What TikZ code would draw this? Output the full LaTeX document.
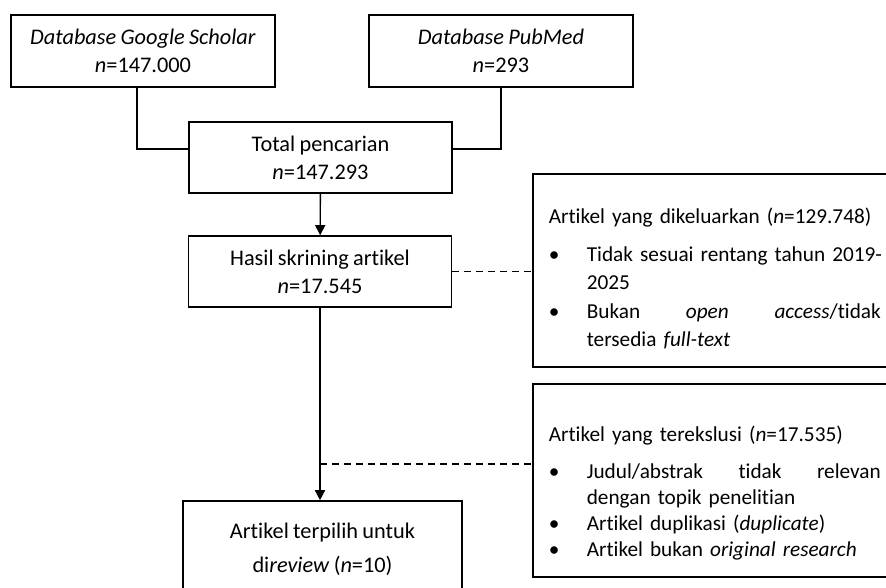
\documentclass[tikz,border=0pt]{standalone}
\usepackage{fontspec}
\setmainfont{Carlito}[Ligatures=NoCommon, WordSpace=0.85]
\usepackage{tikz}
\usetikzlibrary{arrows.meta, calc, positioning}
\newcommand{\bu}{\makebox[0.76cm][l]{\textbullet}}
\newcommand{\hang}{\hspace*{0.76cm}}
\tikzset{box/.style={draw, rectangle, line width=0.9pt, minimum width=5.28cm, minimum height=1.44cm, align=center, inner sep=0pt, font=\fontsize{12.7}{15.9}\selectfont}}
\tikzset{exbox/.style={box, anchor=north west, text width=6.64cm, inner xsep=0.32cm, align=left, minimum height=3.86cm}}
\tikzset{link/.style={line width=0.8pt}}
\tikzset{arrowlink/.style={link, -{Triangle[length=0.2cm, width=0.2cm]}}}
\tikzset{dashlink/.style={link, dash pattern=on 0.14cm off 0.1cm}}

\begin{document}
\begin{tikzpicture}
    \useasboundingbox (0, 0) rectangle (17.72, -11.76);

    \node [box] (GS) at (2.86, -1.02) { \textit{Database Google Scholar}\\ \textit{n}=147.000 };
    \node [box] (PM) at (10.02, -1.02) { \textit{Database PubMed}\\ \textit{n}=293 };
    \node [box, minimum width=5.26cm, minimum height=1.42cm] (Tot) at (6.41, -3.15) { Total pencarian\\ \textit{n}=147.293 };
    \node [box, minimum width=5.26cm, minimum height=1.42cm] (Skr) at (6.40, -5.43) { Hasil skrining artikel\\ \textit{n}=17.545 };
    \node [box, minimum width=5.58cm, minimum height=1.94cm, font=\fontsize{12.7}{19.2}\selectfont] (Fin) at (6.45, -10.99) { Artikel terpilih untuk\\ di\textit{review} (\textit{n}=10) };

    \node [exbox, font=\fontsize{12.1}{16.2}\selectfont] (Ex1) at (10.64, -3.46) {%
        \rule{0pt}{0.64cm}\mbox{Artikel yang dikeluarkan (\textit{n}=129.748)}\\[0.19cm]
        \bu\mbox{Tidak sesuai rentang tahun 2019-}\\
        \hang 2025\\
        \bu\makebox[5.88cm][l]{Bukan\hfill\textit{open}\hfill\textit{access}/tidak}\\
        \hang tersedia \textit{full-text}};
    \node [exbox, font=\fontsize{12.1}{14.8}\selectfont] (Ex2) at (10.64, -7.66) {%
        \rule{0pt}{0.84cm}\mbox{Artikel yang terekslusi (\textit{n}=17.535)}\\[0.22cm]
        \bu\makebox[5.88cm][l]{Judul/abstrak\hfill tidak\hfill relevan}\\
        \hang dengan topik penelitian\\
        \bu Artikel duplikasi (\textit{duplicate})\\
        \bu Artikel bukan \textit{original research}};

    % database branches
    \draw [link] ([xshift=-0.12cm]GS.south) |- ($(Tot.west)+(0, 0.17)$);
    \draw [link] (PM.south) |- ($(Tot.east)+(0, 0.17)$);

    \draw [arrowlink] (Tot) -- (Skr);
    \draw [arrowlink] (Skr.south) -- (Skr.south |- Fin.north);

    % excluded articles
    \coordinate (J) at (6.40, -9.28);
    \draw [dashlink] (Skr.east) -- (Skr.east -| Ex1.west);
    \draw [dashlink] (J) -- (J -| Ex2.west);
\end{tikzpicture}
\end{document}
